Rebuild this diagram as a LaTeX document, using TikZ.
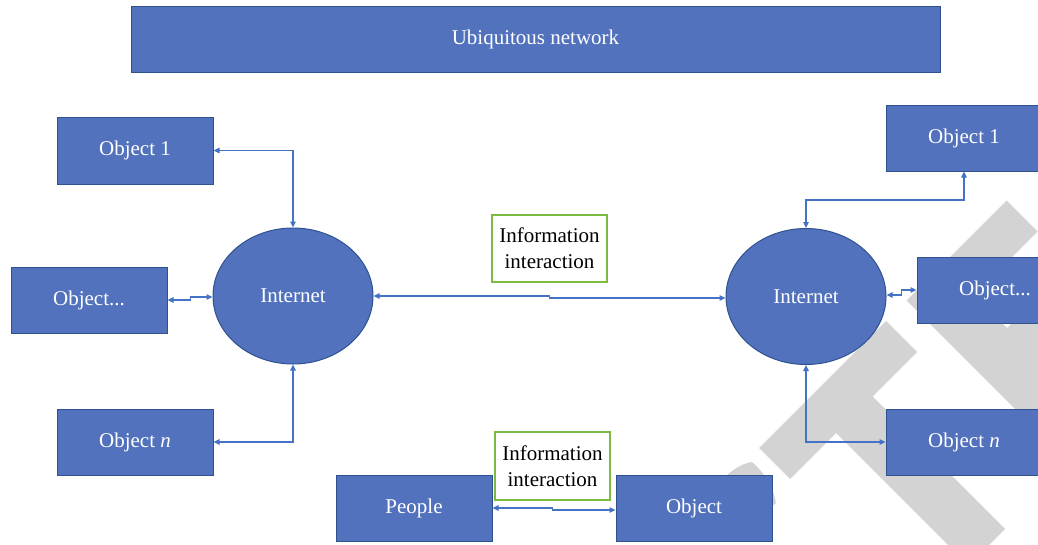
\documentclass[tikz,border=0pt]{standalone}
\usepackage{fontspec}
\setmainfont{Liberation Serif}
\usetikzlibrary{arrows.meta,shapes.geometric}
\definecolor{boxblue}{RGB}{82,114,189}
\definecolor{boxedge}{RGB}{47,82,143}
\definecolor{linkblue}{RGB}{68,114,196}
\definecolor{tagedge}{RGB}{125,186,66}
\definecolor{markgray}{RGB}{211,211,211}

\begin{document}
\begin{tikzpicture}[x=1pt,y=-1pt,
  every node/.style={font=\fontsize{21}{26}\selectfont},
  objbox/.style={draw=boxedge,line width=1pt,fill=boxblue,text=white,
    minimum width=156pt,minimum height=66pt,inner sep=0pt},
  netoval/.style={ellipse,draw=boxedge,line width=1pt,fill=boxblue,text=white,
    minimum width=160pt,minimum height=136pt,inner sep=0pt},
  tagbox/.style={draw=tagedge,line width=1.2pt,fill=white,align=center,
    minimum width=115pt,minimum height=67pt,inner sep=0pt},
  link/.style={draw=linkblue,line width=1.1pt,
    {Triangle[length=6pt,width=5.5pt]}-{Triangle[length=6pt,width=5.5pt]}}]
\useasboundingbox (0,0) rectangle (1038,544);

% light grey lettering in the background
\begin{scope}
  \clip (0,0) rectangle (1038,544);
  \fill[markgray] (886,321) -- (917,352) -- (872.5,396.5) -- (1005,529)
    -- (968.5,565.5) -- (836,433) -- (790,479) -- (759,448) -- cycle;
  \fill[markgray] (906.5,300.5) -- (1006.5,200.5) -- (1037.5,231.5) -- (974,295)
    -- (1007,328) -- (1070.5,264.5) -- (1101.5,295.5) -- (1038,359)
    -- (1239.5,560.5) -- (1203,597) -- cycle;
  \fill[markgray] (724,478) .. controls (734,468) and (744,463) .. (752,462)
    .. controls (764,472) and (773,487) .. (776,503) -- (760,515) -- cycle;
\end{scope}

% shapes
\node[objbox,minimum width=809pt] (net) at (535.5,39) {Ubiquitous network};
\node[objbox,minimum height=67pt] (lobj1) at (135,150.5) {Object 1};
\node[objbox] (lobjd) at (89,300) {Object...};
\node[objbox] (lobjn) at (135,442) {Object \textit{n}};
\node[netoval] (linet) at (293,296) {Internet};
\node[netoval] (rinet) at (806,296.5) {Internet};
\node[objbox] (robj1) at (964,138) {Object 1};
\node[objbox] (robjd) at (995,290) {Object...};
\node[objbox] (robjn) at (964,442) {Object \textit{n}};
\node[objbox] (people) at (414,508) {People};
\node[objbox] (thing) at (694,508) {Object};
\node[tagbox] (tag1) at (549.5,248.5) {Information\\interaction};
\node[tagbox,minimum height=68pt] (tag2) at (552.5,466) {Information\\interaction};

% connectors
\draw[link] (lobj1.east) -| (linet.north);
\draw[link] (lobjd.east) -- ++(23,0) |- ([yshift=-1pt]linet.west);
\draw[link] (lobjn.east) -| (linet.south);
\draw[link] (linet.east) -- ++(176,0) |- ([yshift=-1.5pt]rinet.west);
\draw[link] (rinet.north) -- ++(0,-28) -| (robj1.south);
\draw[link] ([yshift=1.5pt]rinet.east) -- ++(15,0) |- (robjd.west);
\draw[link] (rinet.south) |- (robjn.west);
\draw[link] (people.east) -- ++(60,0) |- ([yshift=-2pt]thing.west);
\end{tikzpicture}
\end{document}
